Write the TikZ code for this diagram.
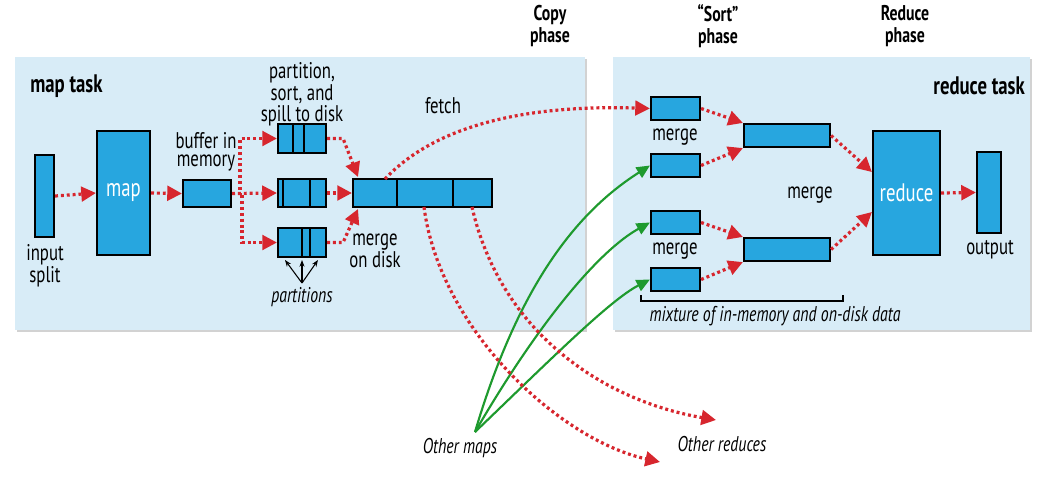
\documentclass[tikz,border=0pt]{standalone}
\usepackage{fontspec}
\setmainfont{PT Sans}[FakeStretch=0.74]
\usetikzlibrary{arrows.meta,shadows}
\definecolor{panel}{HTML}{D8ECF7}
\definecolor{boxc}{HTML}{27A6DF}
\definecolor{redd}{HTML}{D7262E}
\definecolor{grn}{HTML}{1E9A2E}
\begin{document}
\begin{tikzpicture}[x=0.75pt,y=-0.75pt,
  panel/.style={fill=panel,draw=none,drop shadow={shadow xshift=1.5pt,shadow yshift=-1.5pt,opacity=0.35}},
  bx/.style={fill=boxc,draw=black,line width=1.6pt},
  dv/.style={draw=black,line width=1.6pt},
  ra/.style={draw=redd,line width=2.4pt,dash pattern=on 2.2pt off 2.2pt,-{Triangle[length=11pt,width=11pt,fill=redd]}},
  ga/.style={draw=grn,line width=1.6pt,-{Triangle[length=10pt,width=9pt,fill=grn]}},
  lb/.style={font=\fontsize{17}{13.5}\selectfont,align=center,inner sep=0pt},
  hd/.style={font=\bfseries\fontsize{16}{16}\selectfont,align=center,inner sep=0pt},
  it/.style={font=\itshape\fontsize{16}{16}\selectfont,inner sep=0pt}]
\useasboundingbox (0,0) rectangle (1050,476);
\fill[white] (0,0) rectangle (1050,476);
\path[panel] (15,57) rectangle (585,330);
\path[panel] (613,57) rectangle (1030,330);
% headers
\node[hd] (h1) at (550,26) {Copy\\phase};
\node[hd] (h2) at (718,26) {``Sort''\\phase};
\node[hd] (h3) at (905,26) {Reduce\\phase};
\node[hd,font=\bfseries\fontsize{19}{19}\selectfont,anchor=west] (mt) at (30,86) {map task};
\node[hd,font=\bfseries\fontsize{19}{19}\selectfont,anchor=east] (rt) at (1025,86) {reduce task};
% map side
\node[bx,inner sep=0pt,minimum width=14.25pt,minimum height=61.5pt] (ins) at (44.5,196) {};
\node[bx,inner sep=0pt,minimum width=39.75pt,minimum height=93pt,text=white,font=\fontsize{19}{19}\selectfont] (map) at (123.5,193) {map};
\node[lb] (inl) at (45,266) {input\\split};
\node[bx,inner sep=0pt,minimum width=36pt,minimum height=20.25pt] (buf) at (207,193.5) {};
\node[lb] (bufl) at (206,152) {buffer in\\memory};
\node[bx,inner sep=0pt,minimum width=36pt,minimum height=21.75pt] (s1) at (302,138.5) {};
\node[bx,inner sep=0pt,minimum width=36pt,minimum height=21pt] (s2) at (302,193) {};
\node[bx,inner sep=0pt,minimum width=36pt,minimum height=21.75pt] (s3) at (302,242.5) {};
\draw[dv] (293,124)--(293,153) (304,124)--(304,153) (283,179)--(283,207) (310,179)--(310,207) (302,228)--(302,257) (310,228)--(310,257);
\node[lb] (sl) at (302,94) {partition,\\sort, and\\spill to disk};
\node[bx,inner sep=0pt,minimum width=104.25pt,minimum height=21pt] (md) at (422.5,193) {};
\draw[dv] (397,179)--(397,207) (453,179)--(453,207);
\node[lb] (mdl) at (375,251) {merge\\on disk};
\node[lb] (fl) at (443,106) {fetch};
\node[it] (pl) at (302,297) {partitions};
\coordinate (pt) at (302,283);
\draw[-{Stealth[length=5pt]},line width=0.8pt] (pt)--(285,260);
\draw[-{Stealth[length=5pt]},line width=0.8pt] (pt)--(302,260);
\draw[-{Stealth[length=5pt]},line width=0.8pt] (pt)--(318,260);
\draw[ra] (ins.east)--(map.west);
\draw[ra] (map.east)--(buf.west);
\draw[ra] (buf.east) -- ++(8,0) |- (s1.west);
\draw[ra] (buf.east)--(s2.west);
\draw[ra] (buf.east) -- ++(10,0) |- (s3.west);
\draw[ra] (s1.east) -- ++(16,0) -- (358,177);
\draw[ra] (s2.east)--(md.west);
\draw[ra] (s3.east) -- ++(16,0) -- (358,209);
% reduce side
\node[bx,inner sep=0pt,minimum width=36.75pt,minimum height=17.25pt] (r1) at (675.5,108.5) {};
\node[bx,inner sep=0pt,minimum width=36.75pt,minimum height=17.25pt] (r2) at (675.5,165.5) {};
\node[bx,inner sep=0pt,minimum width=36.75pt,minimum height=17.25pt] (r3) at (675.5,222.5) {};
\node[bx,inner sep=0pt,minimum width=36.75pt,minimum height=17.25pt] (r4) at (675.5,279.5) {};
\node[lb] (m1) at (675,137) {merge};
\node[lb] (m2) at (675,251) {merge};
\node[bx,inner sep=0pt,minimum width=64.5pt,minimum height=17.25pt] (q1) at (787,135.5) {};
\node[bx,inner sep=0pt,minimum width=64.5pt,minimum height=17.25pt] (q2) at (787,249.5) {};
\node[lb] (m3) at (810,195) {merge};
\node[bx,inner sep=0pt,minimum width=50.25pt,minimum height=93pt,text=white,font=\fontsize{19}{19}\selectfont] (red) at (906.5,193) {reduce};
\node[bx,inner sep=0pt,minimum width=18pt,minimum height=60.75pt] (out) at (989,192.5) {};
\node[lb] (outl) at (990,250) {output};
\draw[ra] (r1.east)--(q1.north west);
\draw[ra] (r2.east)--(q1.south west);
\draw[ra] (r3.east)--(q2.north west);
\draw[ra] (r4.east)--(q2.south west);
\draw[ra] (q1.east)--(red.west|-0,172);
\draw[ra] (q2.east)--(red.west|-0,212);
\draw[ra] (red.east)--(out.west);
\coordinate (b1) at (641,295); \coordinate (b2) at (843,295);
\draw[line width=0.8pt] (b1)--++(0,6)--(843,301)--(b2);
\node[it] (mix) at (775,316) {mixture of in-memory and on-disk data};
% cross connections
\draw[ra] (385,179) .. controls (440,120) and (540,105) .. (r1.west);
\node[it] (om) at (460,448) {Other maps};
\node[it] (orr) at (722,444) {Other reduces};
\coordinate (og) at (475,432);
\draw[ga] (og) .. controls (520,280) and (580,210) .. (r2.west);
\draw[ga] (og) .. controls (540,320) and (600,250) .. (r3.west);
\draw[ga] (og) .. controls (550,360) and (610,300) .. (r4.west);
\coordinate (e1) at (660,462); \coordinate (e2) at (716,420);
\draw[ra] (424,207) .. controls (440,330) and (560,440) .. (e1);
\draw[ra] (472,207) .. controls (500,330) and (600,400) .. (e2);
\end{tikzpicture}
\end{document}
